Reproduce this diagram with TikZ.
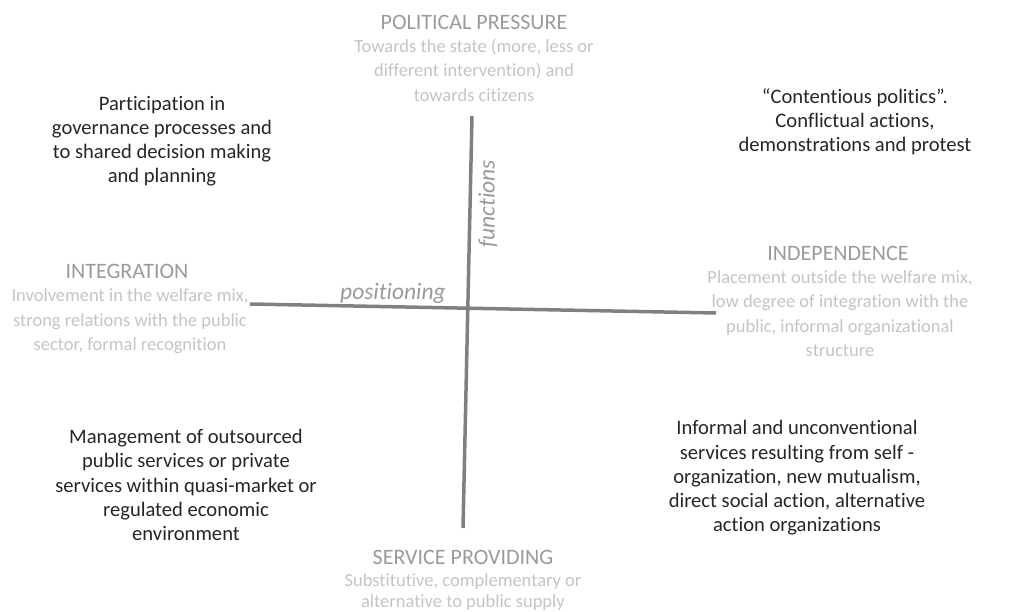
\documentclass[tikz,border=0pt]{standalone}
\usepackage{fontspec}
\setmainfont{Carlito}[Ligatures=NoCommon]
\usepackage{tikz}
\usetikzlibrary{positioning}

\definecolor{axisgray}{HTML}{808080}
\definecolor{headgray}{HTML}{9A9A9A}
\definecolor{subgray}{HTML}{C4C4C4}

\begin{document}
\begin{tikzpicture}[x=1pt,y=-1pt]
    \tikzstyle{head} = [inner sep=0pt, text=headgray, font=\fontsize{22}{26}\selectfont]
    \tikzstyle{sub} = [inner sep=0pt, align=center, text=subgray, font=\fontsize{18.5}{24.5}\selectfont]
    \tikzstyle{blk} = [inner sep=0pt, align=center, text=black!85, font=\fontsize{20.6}{24.2}\selectfont]
    \tikzstyle{axis} = [line width=3.5pt, draw=axisgray]
    \tikzstyle{axlabel} = [inner sep=0pt, text=headgray, font=\fontsize{23.5}{27}\selectfont\itshape]
    \useasboundingbox (0,0) rectangle (1010,612);

    % axes
    \coordinate (top) at (472,116);
    \coordinate (bottom) at (463,528);
    \coordinate (left) at (250,304);
    \coordinate (right) at (716,313);
    \draw[axis] (top) -- (bottom);
    \draw[axis] (left) -- (right);
    \node[axlabel, rotate=90] (functions) at (488,204) {functions};
    \node[axlabel] (positioning) at (393,293) {positioning};

    % poles
    \node[head] (pressure) at (474,22) {POLITICAL PRESSURE};
    \node[sub, anchor=north] (pressuretxt) at (474,38.5) {Towards the state (more, less or\\different intervention) and\\towards citizens};
    \node[head] (integration) at (127,271) {INTEGRATION};
    \node[sub, anchor=north] (integrationtxt) at (130,288.5) {Involvement in the welfare mix,\\strong relations with the public\\sector, formal recognition};
    \node[head] (independence) at (838,253) {INDEPENDENCE};
    \node[sub, anchor=north] (independencetxt) at (840,270) {Placement outside the welfare mix,\\low degree of integration with the\\public, informal organizational\\structure};
    \node[head] (service) at (463,557) {SERVICE PROVIDING};
    \node[sub, anchor=north, font=\fontsize{18.5}{21}\selectfont] (servicetxt) at (463,573) {Substitutive, complementary or\\alternative to public supply};

    % quadrants
    \node[blk] (participation) at (162,141) {Participation in\\governance processes and\\to shared decision making\\and planning};
    \node[blk] (contentious) at (855,122) {``Contentious politics''.\\Conflictual actions,\\demonstrations and protest};
    \node[blk] (management) at (186,485) {Management of outsourced\\public services or private\\services within quasi-market or\\regulated economic\\environment};
    \node[blk] (informal) at (797,478) {Informal and unconventional\\services resulting from self -\\organization, new mutualism,\\direct social action, alternative\\action organizations};
\end{tikzpicture}
\end{document}
